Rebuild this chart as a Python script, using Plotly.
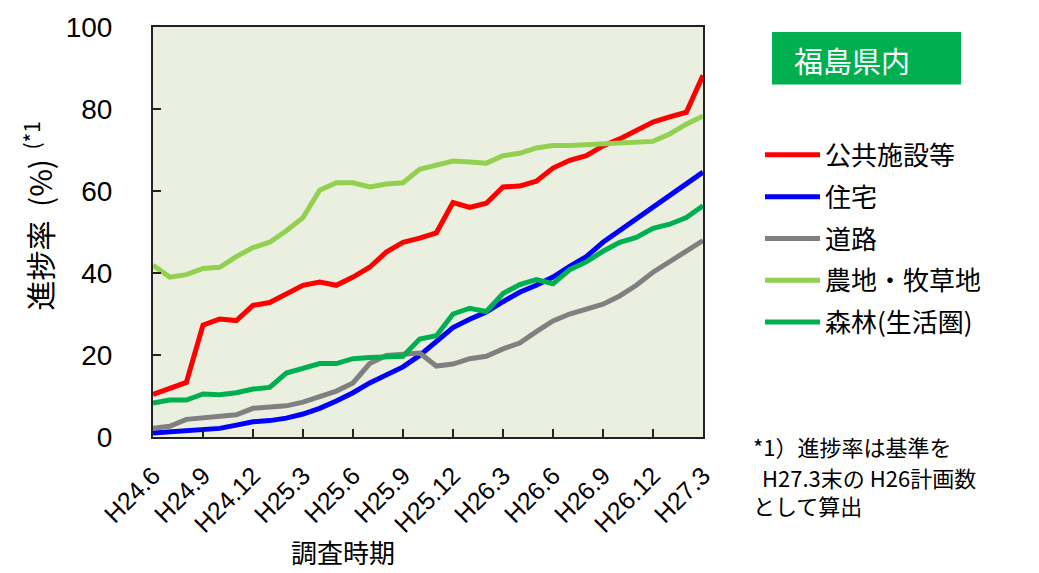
import plotly.graph_objects as go

# Survey months (H24.6 .. H27.3)
months = [
    "H24.6", "H24.7", "H24.8", "H24.9", "H24.10", "H24.11", "H24.12",
    "H25.1", "H25.2", "H25.3", "H25.4", "H25.5", "H25.6", "H25.7", "H25.8",
    "H25.9", "H25.10", "H25.11", "H25.12",
    "H26.1", "H26.2", "H26.3", "H26.4", "H26.5", "H26.6", "H26.7", "H26.8",
    "H26.9", "H26.10", "H26.11", "H26.12",
    "H27.1", "H27.2", "H27.3",
]
tick_labels = ["H24.6", "H24.9", "H24.12", "H25.3", "H25.6", "H25.9",
               "H25.12", "H26.3", "H26.6", "H26.9", "H26.12", "H27.3"]

# Progress rate (%) per category
public_facilities = [10.4, 11.7, 13.3, 27.3, 28.8, 28.4, 32.1, 32.8, 34.8, 37.0,
                     37.8, 37.0, 39.0, 41.4, 45.1, 47.5, 48.5, 49.8, 57.2, 56.0,
                     57.0, 61.0, 61.2, 62.4, 65.6, 67.5, 68.6, 71.0, 72.7, 74.7,
                     76.8, 78.1, 79.2, 88.2]
housing = [1.0, 1.3, 1.4, 1.7, 2.1, 2.9, 3.7, 4.0, 4.6, 5.6,
           7.0, 8.8, 10.8, 13.2, 15.2, 17.1, 19.9, 23.5, 26.7, 28.7,
           30.5, 33.0, 35.3, 37.0, 39.0, 41.6, 44.0, 47.5, 50.3, 53.3,
           56.2, 58.8, 61.6, 64.6]
roads = [2.1, 2.6, 4.3, 4.7, 5.1, 5.4, 7.0, 7.2, 7.6, 8.5,
         9.8, 11.2, 13.2, 17.9, 19.9, 20.2, 20.5, 17.3, 17.8, 19.1,
         19.7, 21.5, 22.9, 25.7, 28.3, 30.0, 31.3, 32.4, 34.4, 37.0,
         40.2, 42.7, 45.3, 47.9]
farmland = [41.9, 39.0, 39.6, 41.1, 41.4, 44.0, 46.2, 47.5, 50.3, 53.5,
            60.2, 62.0, 62.0, 61.0, 61.7, 62.0, 65.3, 66.3, 67.3, 67.1,
            66.8, 68.6, 69.2, 70.5, 71.1, 71.1, 71.3, 71.3, 71.4, 71.8,
            72.1, 73.9, 76.3, 78.3]
forest = [8.3, 9.0, 9.0, 10.5, 10.3, 10.8, 11.7, 12.1, 15.6, 16.7,
          17.9, 17.9, 19.1, 19.4, 19.5, 19.7, 23.9, 24.7, 30.0, 31.4,
          30.6, 35.0, 37.2, 38.4, 37.4, 40.8, 42.7, 45.3, 47.5, 48.7,
          50.9, 51.9, 53.5, 56.4]

series_names = ["公共施設等", "住宅", "道路", "農地・牧草地", "森林(生活圏)"]
series_values = [public_facilities, housing, roads, farmland, forest]
series_colors = ["#FF0000", "#0000FF", "#808080", "#92D050", "#00B050"]

FONT = "Liberation Sans, Noto Sans CJK JP, sans-serif"
JP_FONT = "Noto Sans CJK JP, sans-serif"
NBSP = "\u00a0"

W, H = 1039, 573
L, R, T, B = 153, 703, 17, 437  # plot area in pixels


def px(x):
    return (x - L) / (R - L)


def py(y):
    return (B - y) / (B - T)


fig = go.Figure()
for i, (name, vals, col) in enumerate(zip(series_names, series_values, series_colors)):
    fig.add_trace(go.Scatter(
        x=months, y=vals, name=name, mode="lines",
        line=dict(color=col, width=5),
        legendgroup=f"g{i}",
    ))

fig.update_layout(
    width=W, height=H,
    margin=dict(l=L, r=W - R, t=T, b=H - B, pad=0),
    paper_bgcolor="white",
    plot_bgcolor="#EBEFDF",
    font=dict(family=FONT, color="black"),
    showlegend=True,
    legend=dict(
        x=px(760), y=py(124), xanchor="left", yanchor="top",
        font=dict(family=JP_FONT, size=26, color="black"),
        bgcolor="rgba(0,0,0,0)", itemwidth=55, tracegroupgap=5,
    ),
)

fig.update_xaxes(
    type="category", range=[0, len(months) - 1],
    tickmode="array", tickvals=tick_labels, ticktext=tick_labels,
    tickangle=-45, tickfont=dict(size=25, family=FONT),
    ticks="inside", ticklen=8, tickwidth=1.5, tickcolor="#222",
    showline=True, linecolor="#222", linewidth=2, mirror=True,
    showgrid=False, zeroline=False, ticklabelstandoff=12,
    ticklabeloverflow="allow",
)
fig.update_yaxes(
    range=[0, 100], dtick=20, tickfont=dict(size=28, family=FONT),
    ticks="inside", ticklen=8, tickwidth=1.5, tickcolor="#222",
    showline=True, linecolor="#222", linewidth=2, mirror=True,
    showgrid=False, zeroline=False, ticklabelstandoff=33,
    ticklabeloverflow="allow",
)

# Region badge
fig.add_shape(type="rect", xref="paper", yref="paper",
              x0=px(772), x1=px(961), y0=py(76), y1=py(22),
              fillcolor="#00B050", line=dict(width=0), layer="above")

annotations = [
    dict(text="福島県内", x=px(792), y=py(51), xanchor="left", yanchor="middle",
         font=dict(family=JP_FONT, size=29, color="white")),
    dict(text=f"進捗率{NBSP}{NBSP}(%)<sup>{NBSP}{NBSP}(*1</sup>", x=px(39), y=py(211),
         textangle=-90, xanchor="center", yanchor="middle",
         font=dict(family=JP_FONT, size=30, color="black")),
    dict(text="調査時期", x=px(343), y=py(554), xanchor="center", yanchor="middle",
         font=dict(family=JP_FONT, size=26, color="black")),
    dict(text="*1）進捗率は基準を", x=px(751), y=py(446), xanchor="left", yanchor="middle",
         font=dict(family=JP_FONT, size=22, color="black")),
    dict(text="H27.3末の H26計画数", x=px(760), y=py(478), xanchor="left", yanchor="middle",
         font=dict(family=JP_FONT, size=22, color="black")),
    dict(text="として算出", x=px(751), y=py(507), xanchor="left", yanchor="middle",
         font=dict(family=JP_FONT, size=22, color="black")),
]
for a in annotations:
    fig.add_annotation(xref="paper", yref="paper", showarrow=False, **a)

fig.write_html("out.html")
